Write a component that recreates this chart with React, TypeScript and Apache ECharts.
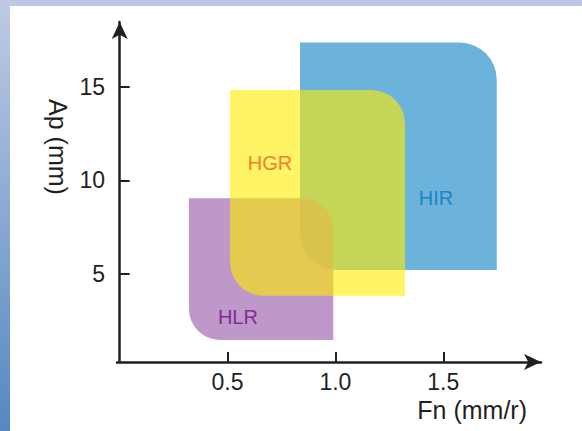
import React, { useEffect, useRef } from "react";
import * as echarts from "echarts";

// Regions (Fn in mm/r on x, Ap in mm on y), drawn in this order
const regionNames = ["HIR", "HLR", "HGR"];
const fnMin = [0.836, 0.321, 0.511];
const fnMax = [1.748, 0.99, 1.323];
const apMin = [5.21, 1.48, 3.83];
const apMax = [17.35, 9.04, 14.82];
const labelFn = [1.466, 0.548, 0.697];
const labelAp = [9.06, 2.7, 10.93];

const xTickValues = [0.5, 1.0, 1.5];
const yTickValues = [5, 10, 15];

const xAxisName = "Fn (mm/r)";
const yAxisName = "Ap (mm)";

const FONT = "'Liberation Sans', Arial, Helvetica, sans-serif";
const INK = "#231f20";

const fills = ["#6cb3dc", "rgb(173,126,186)", "rgb(255,235,0)"];
const opacities = [1, 0.8, 0.6];
const radii = [37, 31, 34];
const labelColors = ["#1b86c6", "#842d93", "#f0802a"];

export default function App() {
  const ref = useRef<HTMLDivElement>(null);
  useEffect(() => {
    if (!ref.current) return;
    const chart = echarts.init(ref.current, null, { renderer: "svg" });
    const data = regionNames.map((n, i) => [
      fnMin[i],
      fnMax[i],
      apMin[i],
      apMax[i],
      labelFn[i],
      labelAp[i],
    ]);
    chart.setOption({
      animation: false,
      graphic: {
        z: -10,
        elements: [
          { type: "rect", shape: { x: 0, y: 0, width: 582, height: 431 }, style: { fill: "#ffffff" }, silent: true },
          { type: "rect", shape: { x: 0, y: 0, width: 582, height: 6 }, style: { fill: "#bcc8e2" }, silent: true },
          {
            type: "rect",
            shape: { x: 0, y: 0, width: 10, height: 431 },
            style: {
              fill: new echarts.graphic.LinearGradient(0, 0, 0, 1, [
                { offset: 0, color: "#bfcae4" },
                { offset: 1, color: "#5588c2" },
              ]),
            },
            silent: true,
          },
          {
            type: "text",
            x: 527,
            y: 410,
            style: { text: xAxisName, font: `25px ${FONT}`, fill: INK, align: "right", verticalAlign: "middle" },
          },
          {
            type: "text",
            x: 58,
            y: 147,
            rotation: -Math.PI / 2,
            style: { text: yAxisName, font: `25px ${FONT}`, fill: INK, align: "center", verticalAlign: "middle" },
          },
        ],
      },
      grid: { left: 117, right: 41, top: 22, bottom: 431 - 362 },
      xAxis: {
        type: "value",
        min: -0.0125,
        max: 1.953,
        splitLine: { show: false },
        axisLine: {
          show: true,
          lineStyle: { color: INK, width: 2.5 },
          symbol: ["none", "arrow"],
          symbolSize: [12, 17],
        },
        axisTick: { show: true, inside: true, length: 10, customValues: xTickValues, lineStyle: { color: INK, width: 2 } },
        axisLabel: {
          customValues: xTickValues,
          formatter: (v: number) => v.toFixed(1),
          color: INK,
          fontSize: 23,
          fontFamily: FONT,
          margin: 8,
        },
      },
      yAxis: {
        type: "value",
        min: 0.3,
        max: 18.45,
        splitLine: { show: false },
        axisLine: {
          show: true,
          lineStyle: { color: INK, width: 2.5 },
          symbol: ["none", "arrow"],
          symbolSize: [12, 17],
        },
        axisTick: { show: true, inside: true, length: 10, customValues: yTickValues, lineStyle: { color: INK, width: 2 } },
        axisLabel: {
          customValues: yTickValues,
          color: INK,
          fontSize: 23,
          fontFamily: FONT,
          margin: 12,
        },
      },
      series: [
        {
          type: "custom",
          data,
          encode: { x: [0, 1, 4], y: [2, 3, 5] },
          renderItem: (params: any, api: any) => {
            const i = params.dataIndex;
            const p0 = api.coord([api.value(0), api.value(3)]);
            const p1 = api.coord([api.value(1), api.value(2)]);
            const lp = api.coord([api.value(4), api.value(5)]);
            const r = radii[i];
            return {
              type: "group",
              children: [
                {
                  type: "rect",
                  shape: { x: p0[0], y: p0[1], width: p1[0] - p0[0], height: p1[1] - p0[1], r: [0, r, 0, r] },
                  style: { fill: fills[i], opacity: opacities[i] },
                },
                {
                  type: "text",
                  z2: 10,
                  x: lp[0],
                  y: lp[1],
                  style: {
                    text: regionNames[i],
                    font: `20px ${FONT}`,
                    fill: labelColors[i],
                    align: "center",
                    verticalAlign: "middle",
                  },
                },
              ],
            };
          },
        },
      ],
    });
    return () => chart.dispose();
  }, []);
  return <div ref={ref} style={{ position: "absolute", left: 0, top: 0, width: 582, height: 431 }} />;
}
